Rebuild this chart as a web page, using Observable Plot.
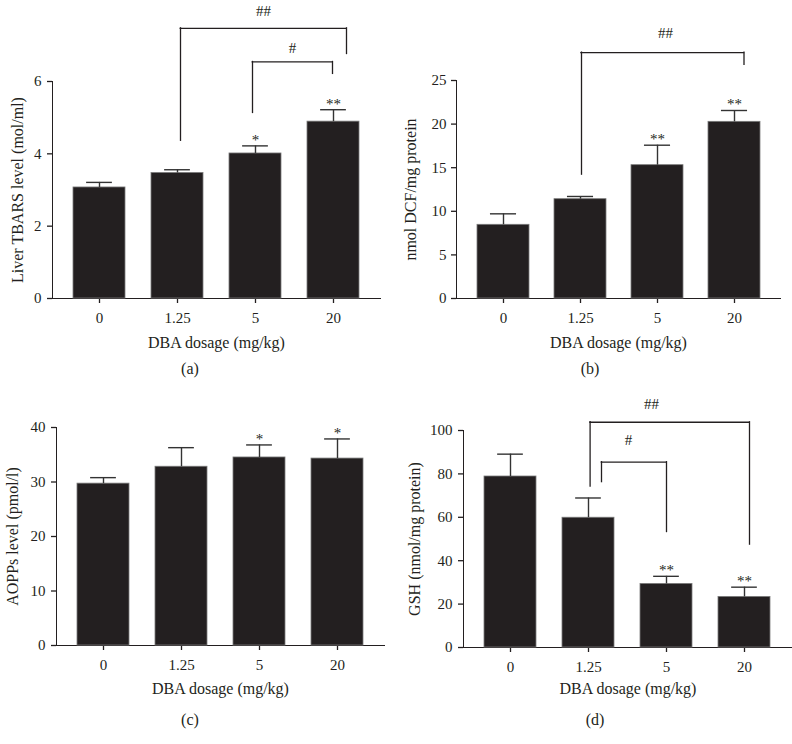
<!DOCTYPE html>
<html>
<head>
<meta charset="utf-8">
<script src="https://cdn.jsdelivr.net/npm/d3@7"></script>
<script src="https://cdn.jsdelivr.net/npm/@observablehq/plot@0.6"></script>
<style>
  html, body { margin: 0; padding: 0; background: #ffffff; }
  #wrap { position: relative; width: 792px; height: 744px; overflow: hidden;
          font-family: "Liberation Serif", "Times New Roman", serif; color: #231f20; }
  .panel { position: absolute; }
  .panel svg g[aria-label*="axis tick"] > *,
  .panel svg g[aria-label="frame"] > *,
  .panel svg g[aria-label="frame"] { stroke-width: 1.3px; }
  .cap { position: absolute; font-size: 16px; transform: translate(-50%, -50%); white-space: nowrap; }
</style>
</head>
<body>
<div id="wrap"></div>
<script>
// ---------- data ----------
const doses = ["0", "1.25", "5", "20"];
const xTitle = "DBA dosage (mg/kg)";
const captions = ["(a)", "(b)", "(c)", "(d)"];

// (a) Liver TBARS
const tbarsMean = [3.07, 3.47, 4.01, 4.89];
const tbarsSem = [0.14, 0.09, 0.21, 0.33];
const tbarsStars = ["", "", "*", "**"];
const tbarsTicks = [0, 2, 4, 6];
const tbarsTitle = "Liver TBARS level (mol/ml)";
const tbarsBrackets = [
  {from: "1.25", to: "20", top: 7.47, left: 4.36, right: 6.76, label: "##", at: "5", labelY: 7.95},
  {from: "5", to: "20", top: 6.54, left: 5.13, right: 6.21, label: "#", at: "5", labelY: 6.92}
];

// (b) DCF
const dcfMean = [8.45, 11.39, 15.29, 20.26];
const dcfSem = [1.26, 0.31, 2.29, 1.30];
const dcfStars = ["", "", "**", "**"];
const dcfTicks = [0, 5, 10, 15, 20, 25];
const dcfTitle = "nmol DCF/mg protein";
const dcfBrackets = [
  {from: "1.25", to: "20", top: 28.2, left: 14.2, right: 26.8, label: "##", at: "5", labelY: 30.4}
];

// (c) AOPPs
const aoppMean = [29.7, 32.8, 34.5, 34.3];
const aoppSem = [1.1, 3.5, 2.3, 3.6];
const aoppStars = ["", "", "*", "*"];
const aoppTicks = [0, 10, 20, 30, 40];
const aoppTitle = "AOPPs level (pmol/l)";
const aoppBrackets = [];

// (d) GSH
const gshMean = [78.8, 59.8, 29.3, 23.3];
const gshSem = [10.3, 9.1, 3.5, 4.5];
const gshStars = ["", "", "**", "**"];
const gshTicks = [0, 20, 40, 60, 80, 100];
const gshTitle = "GSH (nmol/mg protein)";
const gshBrackets = [
  {from: "1.25", to: "20", top: 103.8, left: 74.2, right: 47.4, label: "##", at: "5", labelY: 112.2},
  {from: "1.25", to: "5", top: 85.4, left: 76.2, right: 53.2, label: "#", at: "1.25", labelY: 95.4}
];

// ---------- layout / style ----------
const ink = "#231f20";
const padIn = 0.33, padOut = 0.26;
const layouts = [
  {left: 0,   top: 0,   width: 396, height: 356, mt: 81, ml: 52, mr: 16, mb: 58, tp: 6, xDy: 44, yDx: -35, cap: [190, 369],
   nudges: [[3, 13, 8], [-3, -1, 37]]},
  {left: 396, top: 0,   width: 396, height: 356, mt: 80, ml: 60, mr: 12, mb: 58, tp: 5, xDy: 44, yDx: -46, cap: [590, 369],
   nudges: [[1, 9.5, 8]]},
  {left: 0,   top: 370, width: 396, height: 335, mt: 57, ml: 56, mr: 12, mb: 60, tp: 6, xDy: 43, yDx: -44, cap: [190, 720],
   nudges: []},
  {left: 396, top: 370, width: 396, height: 335, mt: 60, ml: 67, mr: 0,  mb: 58, tp: 6, xDy: 41, yDx: -49, cap: [595, 720],
   nudges: [[1.6, 5, -15], [13, 0, 40]]}
];

const panels = [
  {mean: tbarsMean, sem: tbarsSem, stars: tbarsStars, ticks: tbarsTicks, title: tbarsTitle, brackets: tbarsBrackets},
  {mean: dcfMean, sem: dcfSem, stars: dcfStars, ticks: dcfTicks, title: dcfTitle, brackets: dcfBrackets},
  {mean: aoppMean, sem: aoppSem, stars: aoppStars, ticks: aoppTicks, title: aoppTitle, brackets: aoppBrackets},
  {mean: gshMean, sem: gshSem, stars: gshStars, ticks: gshTicks, title: gshTitle, brackets: gshBrackets}
];

const wrap = document.getElementById("wrap");

panels.forEach((p, k) => {
  const L = layouts[k];
  // same band geometry as the plot's x scale, used only for bracket insets
  const bw = d3.scaleBand().domain(doses).range([L.ml, L.width - L.mr])
    .paddingInner(padIn).paddingOuter(padOut).bandwidth();
  const rows = doses.map((d, i) => ({dose: d, mean: p.mean[i], upper: p.mean[i] + p.sem[i], star: p.stars[i]}));
  const marks = [
    Plot.barY(rows, {x: "dose", y: "mean", fill: ink, stroke: "#7a7a7a", strokeWidth: 0.8}),
    Plot.ruleX(rows, {x: "dose", y1: "mean", y2: "upper", stroke: "#333333", strokeWidth: 1.4}),
    Plot.tickY(rows, {x: "dose", y: "upper", stroke: "#333333", strokeWidth: 1.4, insetLeft: bw / 4, insetRight: bw / 4}),
    Plot.text(rows, {x: "dose", y: "upper", text: "star", dy: -6, fontSize: 15, fill: ink})
  ];
  p.brackets.forEach((b, j) => {
    const [nl, nr, nt] = L.nudges[j];
    marks.push(Plot.ruleX([b], {x: "from", y1: "left", y2: "top", dx: nl, stroke: ink, strokeWidth: 1.3, strokeLinecap: "square"}));
    marks.push(Plot.ruleX([b], {x: "to", y1: "right", y2: "top", dx: nr, stroke: ink, strokeWidth: 1.3, strokeLinecap: "square"}));
    marks.push(Plot.ruleY([b], {x1: "from", x2: "to", y: "top", insetLeft: bw / 2 + nl, insetRight: bw / 2 - nr,
      stroke: ink, strokeWidth: 1.3, strokeLinecap: "square"}));
    marks.push(Plot.text([b], {x: "at", y: "labelY", text: "label", dx: nt, fontSize: 15, fill: ink}));
  });
  marks.push(Plot.text([xTitle], {frameAnchor: "bottom", text: d => d, dy: L.xDy, lineAnchor: "middle", textAnchor: "middle", fontSize: 16, fill: ink}));
  marks.push(Plot.text([p.title], {frameAnchor: "left", text: d => d, rotate: -90, dx: L.yDx, lineAnchor: "middle", textAnchor: "middle", fontSize: 16, fill: ink}));

  const chart = Plot.plot({
    width: L.width,
    height: L.height,
    marginTop: L.mt,
    marginLeft: L.ml,
    marginRight: L.mr,
    marginBottom: L.mb,
    style: {fontFamily: '"Liberation Serif", "Times New Roman", serif', fontSize: "15px", color: ink, background: "transparent", overflow: "visible"},
    x: {domain: doses, paddingInner: padIn, paddingOuter: padOut, tickSize: 5, tickPadding: 9, label: null, line: true},
    y: {domain: [0, p.ticks[p.ticks.length - 1]], ticks: p.ticks, tickFormat: d => String(d), tickSize: 5, tickPadding: L.tp, label: null, line: true},
    marks
  });
  const holder = document.createElement("div");
  holder.className = "panel";
  holder.style.left = L.left + "px";
  holder.style.top = L.top + "px";
  holder.appendChild(chart);
  wrap.appendChild(holder);

  const cap = document.createElement("div");
  cap.className = "cap";
  cap.style.left = L.cap[0] + "px";
  cap.style.top = L.cap[1] + "px";
  cap.textContent = captions[k];
  wrap.appendChild(cap);
});
</script>
</body>
</html>
